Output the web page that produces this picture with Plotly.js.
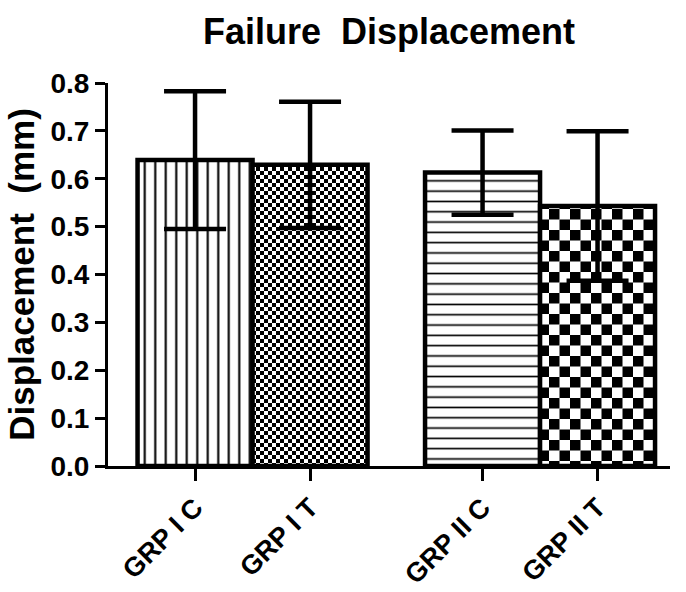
<!DOCTYPE html>
<html><head><meta charset="utf-8">
<script src="https://cdn.plot.ly/plotly-3.0.1.min.js"></script>
<style>html,body{margin:0;padding:0;background:#fff}#chart{width:686px;height:592px}</style>
</head><body><div id="chart"></div>
<script>
// ---- data ----
const categories = ['GRP I C', 'GRP I T', 'GRP II C', 'GRP II T'];
const groups = [0, 0, 1, 1];
const means = [0.639, 0.629, 0.613, 0.543];
const sd = [0.144, 0.132, 0.088, 0.156];
const yTicks = [0.0, 0.1, 0.2, 0.3, 0.4, 0.5, 0.6, 0.7, 0.8];
const yTickText = ['0.0', '0.1', '0.2', '0.3', '0.4', '0.5', '0.6', '0.7', '0.8'];

// ---- layout helpers ----
const xpos = categories.map((c, i) => i + groups[i] * 0.5);
const FONT = 'Liberation Sans, Arial, sans-serif';
const boldFont = (size) => ({family: FONT, size: size, color: '#000', weight: 'bold'});

const trace = {
  type: 'bar',
  x: xpos,
  y: means,
  marker: {
    color: '#ffffff',
    line: {color: '#000', width: 4.5},
    pattern: {
      shape: ['|', '', '-', ''],
      fgcolor: '#000',
      bgcolor: '#fff',
      size: [10.5, 8, 10.3, 8],
      solidity: [0.2, 0.5, 0.16, 0.5],
      fillmode: 'replace'
    }
  },
  error_y: {type: 'data', array: sd, visible: true, color: '#000', thickness: 4.5, width: 31},
  hoverinfo: 'skip'
};

const layout = {
  width: 686, height: 592,
  margin: {l: 108, r: 16, t: 83, b: 126},
  paper_bgcolor: '#fff', plot_bgcolor: '#fff',
  showlegend: false,
  bargap: 0,
  title: {text: 'Failure  Displacement', font: boldFont(36), x: 0.5, xref: 'paper',
          y: 1 - 31 / 592, yref: 'container', yanchor: 'middle'},
  xaxis: {
    range: [-0.757, 4.13], tickmode: 'array', tickvals: xpos, ticktext: categories,
    tickangle: -45, ticks: 'outside', ticklen: 12, tickwidth: 3, tickcolor: '#000',
    showline: true, linewidth: 3, linecolor: '#000', showgrid: false, zeroline: false,
    tickfont: boldFont(27)
  },
  yaxis: {
    range: [0, 0.8], tickmode: 'array', tickvals: yTicks, ticktext: yTickText,
    ticks: 'outside', ticklen: 10, tickwidth: 3, tickcolor: '#000',
    showline: true, linewidth: 3, linecolor: '#000', showgrid: false, zeroline: false,
    tickfont: boldFont(28),
    title: {text: 'Displacement  (mm)', font: boldFont(35), standoff: 6}
  }
};

const gd = document.getElementById('chart');
Plotly.newPlot(gd, [trace], layout, {staticPlot: true}).then(() => {
  const NS = 'http://www.w3.org/2000/svg';
  const svg = gd.querySelector('svg.main-svg');
  let defs = svg.querySelector('defs');
  if (!defs) { defs = document.createElementNS(NS, 'defs'); svg.insertBefore(defs, svg.firstChild); }
  function checker(id, c) {
    const p = document.createElementNS(NS, 'pattern');
    p.setAttribute('id', id);
    p.setAttribute('patternUnits', 'userSpaceOnUse');
    p.setAttribute('width', 2 * c);
    p.setAttribute('height', 2 * c);
    const mk = (x, y, w, h, f) => {
      const r = document.createElementNS(NS, 'rect');
      r.setAttribute('x', x); r.setAttribute('y', y);
      r.setAttribute('width', w); r.setAttribute('height', h);
      r.setAttribute('fill', f);
      p.appendChild(r);
    };
    mk(0, 0, 2 * c, 2 * c, '#fff');
    mk(0, 0, c, c, '#000');
    mk(c, c, c, c, '#000');
    defs.appendChild(p);
  }
  checker('chkFine', 4);
  checker('chkCoarse', 10.5);
  const paths = gd.querySelectorAll('.barlayer .point path');
  if (paths[1]) paths[1].style.fill = 'url(#chkFine)';
  if (paths[3]) paths[3].style.fill = 'url(#chkCoarse)';
});
</script>
</body></html>
